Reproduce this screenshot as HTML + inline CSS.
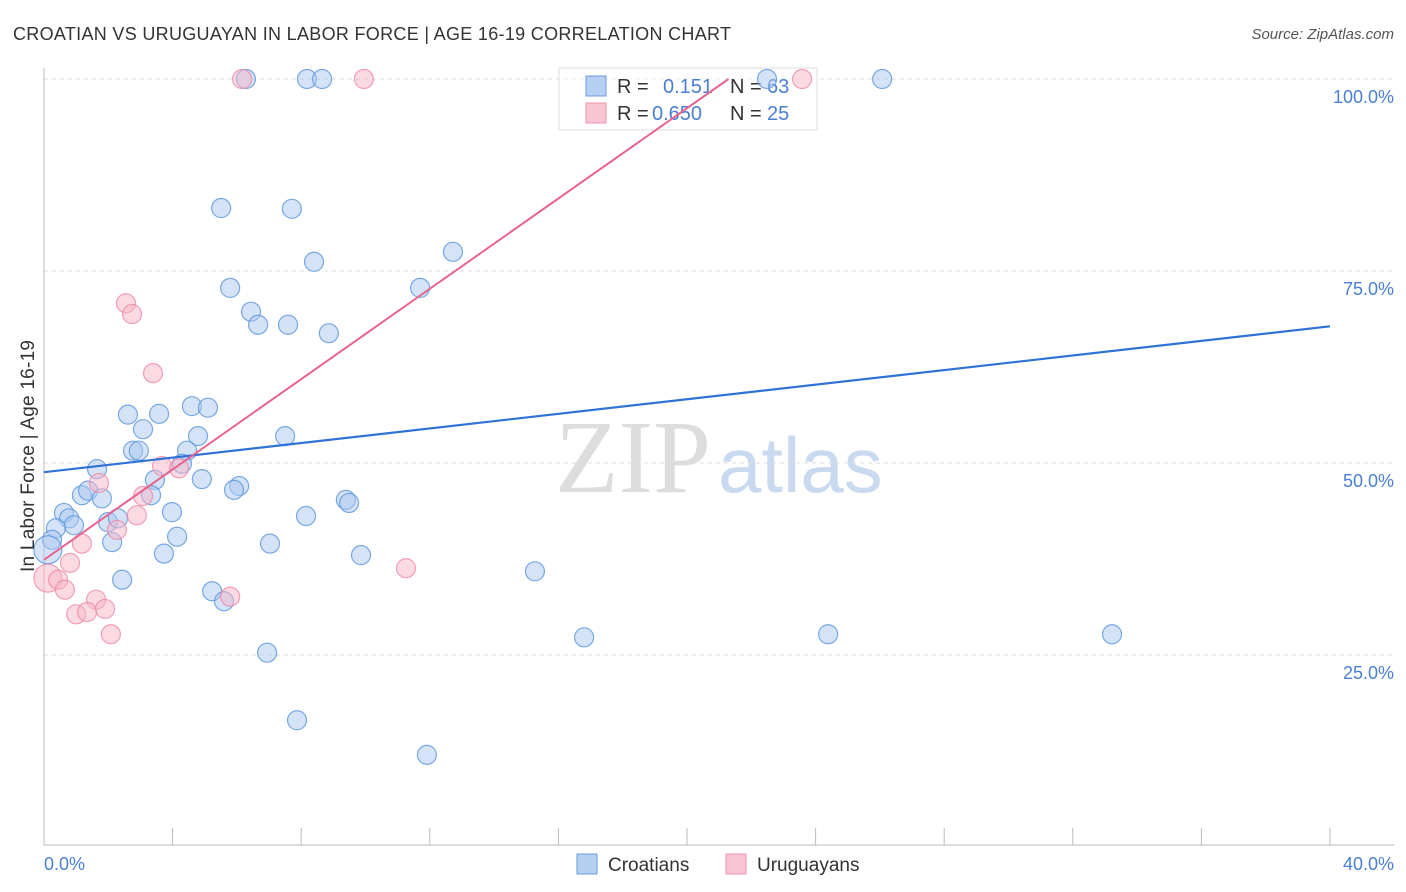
<!DOCTYPE html>
<html><head><meta charset="utf-8"><style>
body{margin:0;background:#fff;font-family:"Liberation Sans",sans-serif}
svg{display:block}
</style></head><body>
<svg id="chart" width="1406" height="892">
<text x="13" y="40" font-size="18" fill="#333" textLength="718">CROATIAN VS URUGUAYAN IN LABOR FORCE | AGE 16-19 CORRELATION CHART</text>
<text x="1394" y="39" font-size="15" fill="#555" font-style="italic" text-anchor="end">Source: ZipAtlas.com</text>
<text x="555" y="492" font-size="104" fill="#ddd" font-family="Liberation Serif,serif">ZIP</text>
<text x="718" y="492" font-size="78" fill="#c9d9f0">atlas</text>
<g id="grid"></g><g id="axes"></g>
<g>
<rect x="559" y="68" width="258" height="62" fill="#fff" fill-opacity="0.6" stroke="#ddd"/>
<rect x="586" y="76" width="20" height="20" fill="#b6d0f2" stroke="#6a9de0"/>
<rect x="586" y="103" width="20" height="20" fill="#f9c4d3" stroke="#f090aa"/>
<text x="617" y="93" font-size="20" fill="#333">R = </text><text x="663" y="93" font-size="20" fill="#4a7fd4">0.151</text>
<text x="730" y="93" font-size="20" fill="#333">N = </text><text x="767" y="93" font-size="20" fill="#4a7fd4">63</text>
<text x="617" y="120" font-size="20" fill="#333">R = </text><text x="652" y="120" font-size="20" fill="#4a7fd4">0.650</text>
<text x="730" y="120" font-size="20" fill="#333">N = </text><text x="767" y="120" font-size="20" fill="#4a7fd4">25</text>
</g>
<g id="pts"></g><g id="lines"></g>
<text transform="translate(34,456) rotate(-90)" font-size="19" fill="#333" text-anchor="middle" textLength="232">In Labor Force | Age 16-19</text>
<text x="44" y="870" font-size="18" fill="#4a7fd4">0.0%</text>
<text x="1394" y="870" font-size="18" fill="#4a7fd4" text-anchor="end">40.0%</text>
<g>
<rect x="577" y="854" width="20" height="20" fill="#b6d0f2" stroke="#6a9de0"/>
<text x="608" y="871" font-size="19" fill="#333">Croatians</text>
<rect x="726" y="854" width="20" height="20" fill="#f9c4d3" stroke="#f090aa"/>
<text x="757" y="871" font-size="19" fill="#333">Uruguayans</text>
</g>
</svg>
<script>
const yTicks=[25,50,75,100];
const yTickLabels=["25.0%","50.0%","75.0%","100.0%"];
const croX=[6.28,8.18,8.65,26.07,22.49,5.51,7.71,8.40,12.72,5.79,11.70,6.44,6.66,7.59,8.86,2.61,3.58,4.60,5.10,3.08,4.79,2.77,2.95,4.45,4.29,1.65,3.45,4.91,6.07,5.91,3.33,1.18,1.37,1.80,9.39,9.49,8.15,3.98,0.62,0.78,0.93,1.99,2.30,0.37,4.14,0.25,2.12,7.03,9.86,3.73,0.12,2.43,15.27,5.23,5.60,16.80,24.39,33.22,6.94,7.87,11.91,7.50];
const croY=[100,100,100,100,100,83.2,83.1,76.2,77.5,72.8,72.8,69.7,68.0,68.0,66.9,56.3,56.4,57.4,57.2,54.4,53.5,51.6,51.6,51.6,49.9,49.2,47.8,47.9,47.0,46.5,45.8,45.8,46.4,45.4,45.2,44.8,43.1,43.6,43.5,42.8,41.9,42.3,42.8,41.5,40.4,40.0,39.7,39.5,38.0,38.2,38.7,34.8,35.9,33.3,32.0,27.3,27.7,27.7,25.3,16.5,12.0,53.5];
const uruX=[6.16,9.95,23.58,2.55,2.74,3.39,3.67,4.20,1.71,3.08,2.89,2.27,1.18,0.81,0.12,0.44,0.65,1.62,1.00,1.34,1.90,2.08,5.79,11.26];
const uruY=[100,100,100,70.8,69.4,61.7,49.6,49.3,47.4,45.7,43.2,41.3,39.5,37.0,35.0,34.8,33.5,32.2,30.3,30.6,31.0,27.7,32.6,36.3];
const croLine=[48.8,0.475];
const uruLine=[37.4,2.94];
const X=v=>44+v*32.15, Y=v=>655-(v-25)*7.68;
const NS="http://www.w3.org/2000/svg";
function mk(t,a,p){const e=document.createElementNS(NS,t);for(const k in a)e.setAttribute(k,a[k]);p.appendChild(e);return e;}
const g=document.getElementById('grid'),ax=document.getElementById('axes'),pts=document.getElementById('pts'),ln=document.getElementById('lines');
yTicks.forEach((t,i)=>{
 const l=mk('line',{x1:44,x2:1394,y1:Y(t),y2:Y(t),stroke:'#ddd','stroke-dasharray':'4,4'},g);
 
 
 const tx=mk('text',{x:1394,y:Y(t)+24,'font-size':18,fill:'#4a7fd4','text-anchor':'end'},g);
 tx.textContent=yTickLabels[i];
 
 
});
const a1=mk('line',{x1:44,x2:44,y1:68,y2:845,stroke:'#bbb'},ax);


const a2=mk('line',{x1:44,x2:1394,y1:845,y2:845,stroke:'#bbb'},ax);


for(let i=0;i<=10;i++){const t=mk('line',{x1:X(i*4),x2:X(i*4),y1:828,y2:845,stroke:'#bbb'},ax);
 
 }
function dots(xs,ys,fill,stroke,name){xs.forEach((x,i)=>{
 const c=mk('circle',{cx:X(x),cy:Y(ys[i]),r:(x<0.2?14:9.5),fill:fill,'fill-opacity':0.5,stroke:stroke,'stroke-opacity':0.8,'stroke-width':1.2},pts);
 
 });}
dots(croX,croY,'#a9c8f0','#5b95dd','croatian-point');
dots(uruX,uruY,'#f7b5c7','#ee8aa6','uruguayan-point');
const l1=mk('line',{x1:X(0),y1:Y(croLine[0]),x2:X(40),y2:Y(croLine[0]+40*croLine[1]),stroke:'#2f72d6','stroke-width':2.2},ln);


const xe=(100-uruLine[0])/uruLine[1];
const l2=mk('line',{x1:X(0),y1:Y(uruLine[0]),x2:X(xe),y2:Y(100),stroke:'#e8648e','stroke-width':2},ln);


</script>
</body></html>
